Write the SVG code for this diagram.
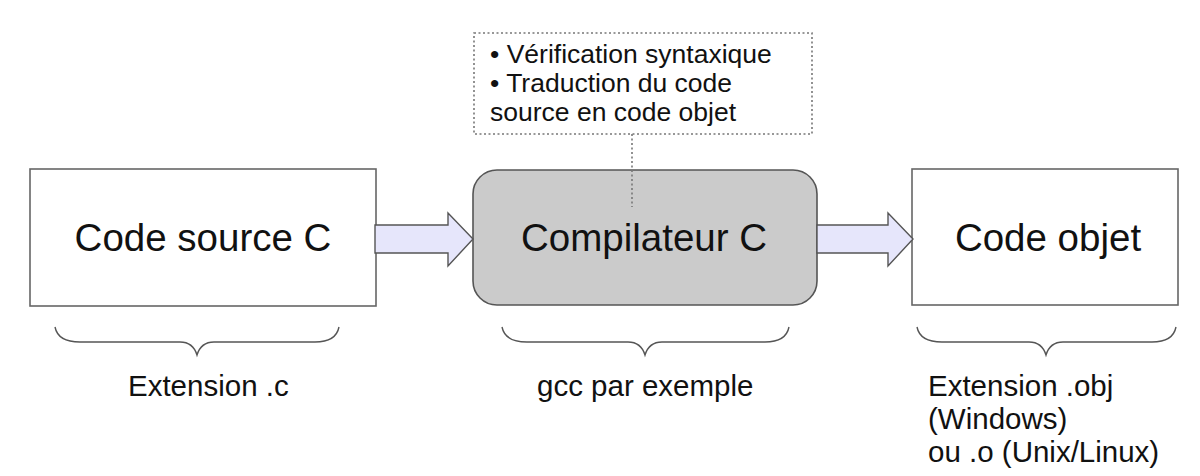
<svg xmlns="http://www.w3.org/2000/svg" width="1200" height="476" viewBox="0 0 1200 476">
<style>
text{font-family:"Liberation Sans",Arial,sans-serif;fill:#111}
.box{fill:#fff;stroke:#666;stroke-width:1.6}
.big{font-size:38.5px;text-anchor:middle}
.lbl{font-size:29.5px}
.note{font-size:26.5px}
.arrow{fill:#e6e6fb;stroke:#555;stroke-width:1.4}
.brace{fill:none;stroke:#555;stroke-width:1.4}
.dot{fill:none;stroke:#777;stroke-width:1.6;stroke-dasharray:2 2.5}
</style>
<rect width="1200" height="476" fill="#fff"/>
<g id="n-source">
<rect class="box" x="30" y="169" width="346" height="137"/>
<text class="big" x="203" y="251">Code source C</text>
</g>
<g id="n-compiler">
<rect x="473" y="170" width="344" height="135" rx="24" fill="#cbcbcb" stroke="#555" stroke-width="1.6"/>
<text class="big" x="644" y="251">Compilateur C</text>
</g>
<g id="n-objet">
<rect class="box" x="912" y="169" width="266" height="136"/>
<text class="big" x="1048" y="251">Code objet</text>
</g>
<g id="n-note">
<rect class="dot" x="474" y="33" width="338" height="101"/>
<text class="note" x="490" y="63">• Vérification syntaxique</text>
<text class="note" x="490" y="92">• Traduction du code</text>
<text class="note" x="490" y="121">source en code objet</text>
</g>
<g id="connectors">
<path class="arrow" d="M375,225 H448 V213 L473,239 L448,266 V253 H375 Z"/>
<path class="arrow" d="M817,225 H888 V213 L913,239 L888,266 V253 H817 Z"/>
<line class="dot" x1="632" y1="134" x2="632" y2="207"/>
</g>
<g id="n-brace1">
<path class="brace" d="M55,327 Q58,342 80,342 H180 Q193,342 197,355 Q201,342 214,342 H315 Q336,342 339,327"/>
<text class="lbl" x="128" y="396">Extension .c</text>
</g>
<g id="n-brace2">
<path class="brace" d="M502,327 Q505,342 527,342 H628 Q641,342 645,355 Q649,342 662,342 H765 Q786,342 789,327"/>
<text class="lbl" x="537" y="396">gcc par exemple</text>
</g>
<g id="n-brace3">
<path class="brace" d="M917,327 Q920,342 942,342 H1029 Q1042,342 1046,355 Q1050,342 1063,342 H1152 Q1173,342 1176,327"/>
<text class="lbl" x="928" y="396">Extension .obj</text>
<text class="lbl" x="928" y="429">(Windows)</text>
<text class="lbl" x="928" y="462">ou .o (Unix/Linux)</text>
</g>
</svg>
